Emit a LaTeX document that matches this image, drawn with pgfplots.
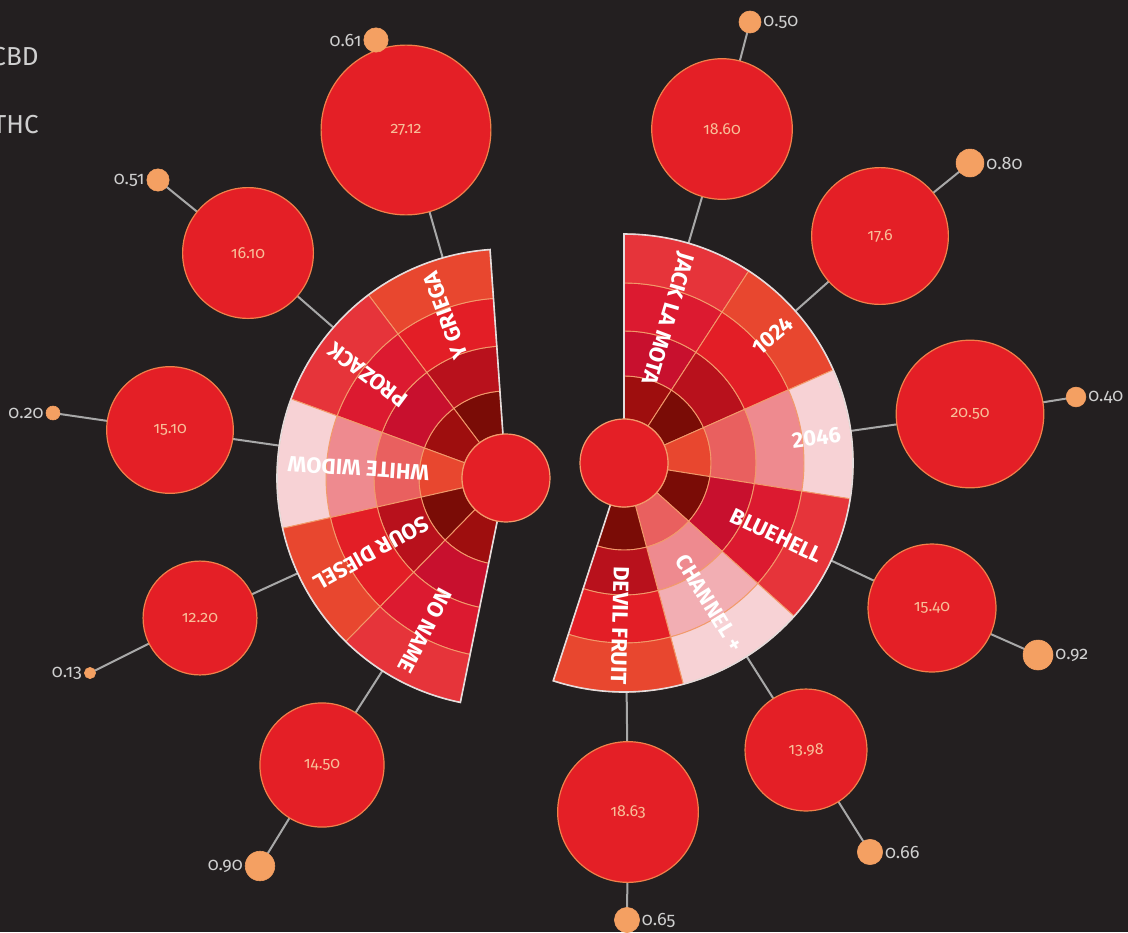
\documentclass[border=0pt]{standalone}
\usepackage{pgfplots}
\usepackage{pgfplotstable}
\pgfplotsset{compat=1.18}
\usetikzlibrary{calc}
\usepackage{fontspec}
\setmainfont{Fira Sans}
\newfontfamily\numfont[RawFeature=+onum]{Fira Sans}

\definecolor{bg}{HTML}{231F20}
\definecolor{linkgrey}{HTML}{A8A8A8}
\definecolor{thcred}{HTML}{E41F26}
\definecolor{thcedge}{HTML}{F0804A}
\definecolor{cbdorange}{HTML}{F4A062}
\definecolor{cellline}{HTML}{F29A6A}
\definecolor{fanedge}{HTML}{E4DCDC}
\definecolor{numpeach}{HTML}{F8BE98}
\definecolor{labgrey}{HTML}{CFCFCF}
% cell shades, dark to light
\definecolor{m0}{HTML}{7A0C06}
\definecolor{m1}{HTML}{9E0E0E}
\definecolor{m2}{HTML}{B8111C}
\definecolor{m3}{HTML}{C8102E}
\definecolor{m4}{HTML}{DC1A30}
\definecolor{m5}{HTML}{E31E26}
\definecolor{m6}{HTML}{E6343A}
\definecolor{m7}{HTML}{E8472F}
\definecolor{p1}{HTML}{E9605F}
\definecolor{p2}{HTML}{EE8A8F}
\definecolor{p3}{HTML}{F2AEB3}
\definecolor{p4}{HTML}{F7D2D5}

\tikzset{wl/.style={text=white, font=\bfseries\fontsize{11}{11}\selectfont, inner sep=0pt}}

% links: fan centre -> THC circle -> CBD circle
\pgfplotstableread{
x y
506 478
406 130
376 40
nan nan
506 478
248 253
158 180
nan nan
506 478
170 430
53 413
nan nan
506 478
200 618
90 673
nan nan
506 478
322 765
260 866
nan nan
624 463
722 129
750 22
nan nan
624 463
880 236
970 163
nan nan
624 463
970 414
1076 397
nan nan
624 463
932 608
1038 655
nan nan
624 463
806 750
870 852
nan nan
624 463
628 812
627 920
}\links

\pgfplotstableread{
x y thc
406 130 27.12
248 253 16.10
170 430 15.10
200 618 12.20
322 765 14.50
722 129 18.60
880 236 17.6
970 414 20.50
932 608 15.40
806 750 13.98
628 812 18.63
}\thcdata

\pgfplotstableread{
x y cbd
376 40 0.61
158 180 0.51
53 413 0.20
90 673 0.13
260 866 0.90
}\cbdleft

\pgfplotstableread{
x y cbd
750 22 0.50
970 163 0.80
1076 397 0.40
1038 655 0.92
870 852 0.66
627 920 0.65
}\cbdright

% one cell: cx cy a1 a2 r1 r2 (pt) colour
\newcommand\cell[7]{%
  \filldraw[fill=#7, draw=cellline, line width=0.45pt]
    ($(axis cs:#1,#2)+(#3:#5pt)$) arc[start angle=#3, end angle=#4, radius=#5pt]
    -- ($(axis cs:#1,#2)+(#4:#6pt)$) arc[start angle=#4, end angle=#3, radius=#6pt] -- cycle;}
% one strain: cx cy a1 a2 and four ring colours, inner to outer
\newcommand\strain[8]{%
  \cell{#1}{#2}{#3}{#4}{22}{43.5}{#5}%
  \cell{#1}{#2}{#3}{#4}{43.5}{66}{#6}%
  \cell{#1}{#2}{#3}{#4}{66}{90}{#7}%
  \cell{#1}{#2}{#3}{#4}{90}{114.5}{#8}}
\newcommand\fanoutline[4]{%
  \draw[fanedge, line width=0.8pt]
    ($(axis cs:#1,#2)+(#3:22pt)$) -- ($(axis cs:#1,#2)+(#3:114.5pt)$)
    arc[start angle=#3, end angle=#4, radius=114.5pt]
    -- ($(axis cs:#1,#2)+(#4:22pt)$);}

\begin{document}
\begin{tikzpicture}
\begin{axis}[name=ax, x=0.5pt, y=0.5pt, y dir=reverse,
  xmin=0, xmax=1128, ymin=0, ymax=932, hide axis, clip=true]
\fill[bg] (rel axis cs:0,0) rectangle (rel axis cs:1,1);

\addplot[linkgrey, line width=1pt, unbounded coords=jump] table {\links};

% left fan
\strain{506}{478}{94}{126.9}{m0}{m2}{m5}{m7}
\strain{506}{478}{126.9}{159.8}{m1}{m3}{m4}{m6}
\strain{506}{478}{159.8}{192.7}{m7}{p1}{p2}{p4}
\strain{506}{478}{192.7}{225.6}{m0}{m2}{m5}{m7}
\strain{506}{478}{225.6}{258.5}{m1}{m3}{m4}{m6}
\fanoutline{506}{478}{94}{258.5}
% right fan
\strain{624}{463}{90}{57}{m1}{m3}{m4}{m6}
\strain{624}{463}{57}{24}{m0}{m2}{m5}{m7}
\strain{624}{463}{24}{-9}{m7}{p1}{p2}{p4}
\strain{624}{463}{-9}{-42}{m0}{m3}{m4}{m6}
\strain{624}{463}{-42}{-75}{p1}{p2}{p3}{p4}
\strain{624}{463}{-75}{-108}{m0}{m2}{m5}{m7}
\fanoutline{624}{463}{90}{-108}

% hubs
\addplot[only marks, mark=*, mark size=22pt,
  mark options={fill=thcred, draw=cellline, line width=0.6pt}]
  coordinates {(506,478) (624,463)};

% strain names
\node[wl, rotate=110.45, anchor=east] at ($(axis cs:506,478)+(110.45:109.5pt)$) {Y GRIEGA};
\node[wl, rotate=143.35, anchor=east] at ($(axis cs:506,478)+(143.35:109.5pt)$) {PROZACK};
\node[wl, rotate=176.25, anchor=east] at ($(axis cs:506,478)+(176.25:109.5pt)$) {WHITE WIDOW};
\node[wl, rotate=209.15, anchor=east] at ($(axis cs:506,478)+(209.15:109.5pt)$) {SOUR DIESEL};
\node[wl, rotate=242.05, anchor=east] at ($(axis cs:506,478)+(242.05:109.5pt)$) {NO NAME};
\node[wl, rotate=253.5, anchor=west] at ($(axis cs:624,463)+(73.5:109.5pt)$) {JACK LA MOTA};
\node[wl, rotate=40.5, anchor=east] at ($(axis cs:624,463)+(40.5:109.5pt)$) {1024};
\node[wl, rotate=7.5, anchor=east] at ($(axis cs:624,463)+(7.5:109.5pt)$) {2046};
\node[wl, rotate=-25.5, anchor=east] at ($(axis cs:624,463)+(-25.5:109.5pt)$) {BLUEHELL};
\node[wl, rotate=-58.5, anchor=east] at ($(axis cs:624,463)+(-58.5:109.5pt)$) {CHANNEL +};
\node[wl, rotate=-91.5, anchor=east] at ($(axis cs:624,463)+(-91.5:111pt)$) {DEVIL FRUIT};

% THC circles, area ~ THC
\addplot[scatter, only marks, mark=*, line width=0.6pt,
  scatter/use mapped color={draw=thcedge, fill=thcred},
  visualization depends on={\thisrow{thc} \as \thcv},
  scatter/@pre marker code/.append style={/tikz/mark size={8.15*sqrt(\thcv)}}]
  table[x=x, y=y] {\thcdata};
\addplot[only marks, mark=none, point meta=explicit symbolic,
  nodes near coords, nodes near coords align=center,
  every node near coord/.append style={text=numpeach, font=\numfont\fontsize{8}{8}\selectfont}]
  table[x=x, y=y, meta=thc] {\thcdata};

% CBD circles, area ~ CBD
\addplot[scatter, only marks, mark=*, line width=0.3pt,
  scatter/use mapped color={draw=cbdorange, fill=cbdorange},
  visualization depends on={\thisrow{cbd} \as \cbdv},
  scatter/@pre marker code/.append style={/tikz/mark size={7.8*sqrt(\cbdv)}}]
  table[x=x, y=y] {\cbdleft};
\addplot[scatter, only marks, mark=*, line width=0.3pt,
  scatter/use mapped color={draw=cbdorange, fill=cbdorange},
  visualization depends on={\thisrow{cbd} \as \cbdv},
  scatter/@pre marker code/.append style={/tikz/mark size={7.8*sqrt(\cbdv)}}]
  table[x=x, y=y] {\cbdright};
\addplot[only marks, mark=none, point meta=explicit symbolic,
  visualization depends on={\thisrow{cbd} \as \cbdv},
  nodes near coords, nodes near coords align=center,
  every node near coord/.append style={text=labgrey, anchor=east, inner sep=0pt,
    xshift={-7.8*sqrt(\cbdv)-1}, font=\numfont\fontsize{9}{9}\selectfont}]
  table[x=x, y=y, meta=cbd] {\cbdleft};
\addplot[only marks, mark=none, point meta=explicit symbolic,
  visualization depends on={\thisrow{cbd} \as \cbdv},
  nodes near coords, nodes near coords align=center,
  every node near coord/.append style={text=labgrey, anchor=west, inner sep=0pt,
    xshift={7.8*sqrt(\cbdv)+1}, font=\numfont\fontsize{9}{9}\selectfont}]
  table[x=x, y=y, meta=cbd] {\cbdright};

% legend words (cut by the left edge)
\node[anchor=east, text=labgrey, font=\fontsize{13}{13}\selectfont, inner sep=0pt] at (axis cs:39,57) {CBD};
\node[anchor=east, text=labgrey, font=\fontsize{13}{13}\selectfont, inner sep=0pt] at (axis cs:39,125) {THC};
\end{axis}
\pgfresetboundingbox
\path[use as bounding box] (ax.south west) rectangle (ax.north east);
\end{tikzpicture}
\end{document}
